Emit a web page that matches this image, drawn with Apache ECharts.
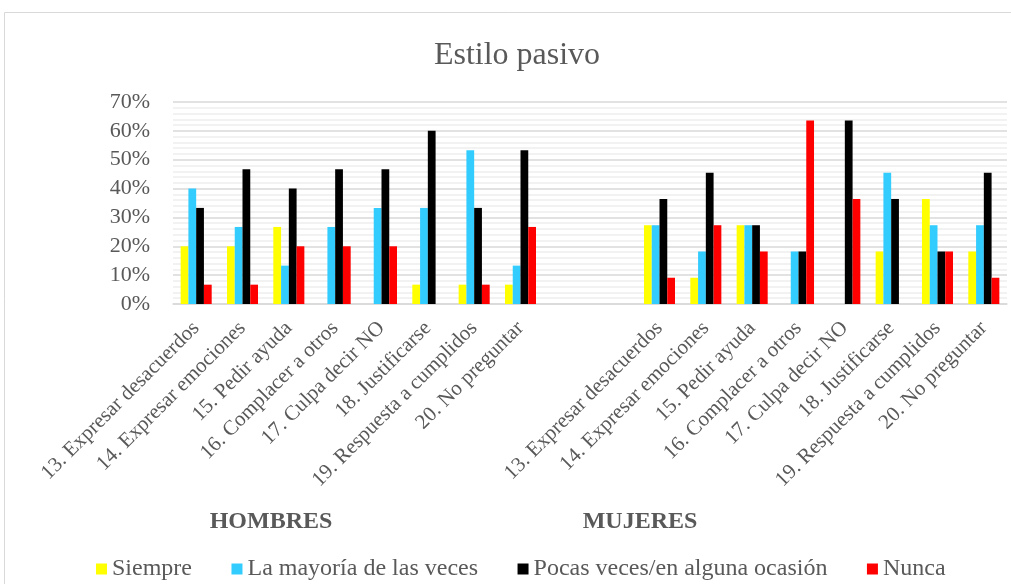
<!DOCTYPE html>
<html>
<head>
<meta charset="utf-8">
<script src="https://cdn.jsdelivr.net/npm/echarts@6/dist/echarts.min.js"></script>
<style>
  html, body { margin: 0; padding: 0; background: #ffffff; }
  #chart { width: 1011px; height: 584px; }
</style>
</head>
<body>
<div id="chart"></div>
<script>
// Item labels (same eight items for each group) and two empty slots between groups
const items = [
  '13. Expresar desacuerdos',
  '14. Expresar emociones',
  '15. Pedir ayuda',
  '16. Complacer a otros',
  '17. Culpa decir NO',
  '18. Justificarse',
  '19. Respuesta a cumplidos',
  '20. No preguntar'
];
const categories = items.concat([' ', '  '], items);

const seriesNames = ['Siempre', 'La mayoría de las veces', 'Pocas veces/en alguna ocasión', 'Nunca'];
const groupTitles = ['HOMBRES', 'MUJERES'];

// Percentages, men (items 13-20)
const hombresSiempre = [20, 20, 26.7, 0, 0, 6.7, 6.7, 6.7];
const hombresMayoria = [40, 26.7, 13.3, 26.7, 33.3, 33.3, 53.3, 13.3];
const hombresPocas   = [33.3, 46.7, 40, 46.7, 46.7, 60, 33.3, 53.3];
const hombresNunca   = [6.7, 6.7, 20, 20, 20, 0, 6.7, 26.7];

// Percentages, women (items 13-20)
const mujeresSiempre = [27.3, 9.1, 27.3, 0, 0, 18.2, 36.4, 18.2];
const mujeresMayoria = [27.3, 18.2, 27.3, 18.2, 0, 45.5, 27.3, 27.3];
const mujeresPocas   = [36.4, 45.5, 27.3, 18.2, 63.6, 36.4, 18.2, 45.5];
const mujeresNunca   = [9.1, 27.3, 18.2, 63.6, 36.4, 0, 18.2, 9.1];

const gap = [null, null];
const colors = ['#FFFF00', '#33CCFF', '#000000', '#FF0000'];
const serif = "'Liberation Serif', 'Times New Roman', serif";
const textGrey = '#595959';

const seriesValues = [
  hombresSiempre.concat(gap, mujeresSiempre),
  hombresMayoria.concat(gap, mujeresMayoria),
  hombresPocas.concat(gap, mujeresPocas),
  hombresNunca.concat(gap, mujeresNunca)
];

const chart = echarts.init(document.getElementById('chart'), null, { renderer: 'canvas' });

chart.setOption({
  animation: false,
  backgroundColor: '#ffffff',
  color: colors,
  title: [
    {
      text: 'Estilo pasivo',
      left: 517, top: 40, textAlign: 'center', padding: 0,
      textStyle: { fontFamily: serif, fontSize: 32, fontWeight: 'normal', color: textGrey }
    },
    {
      text: groupTitles[0],
      left: 271, top: 510, textAlign: 'center', padding: 0,
      textStyle: { fontFamily: serif, fontSize: 24, fontWeight: 'bold', color: textGrey }
    },
    {
      text: groupTitles[1],
      left: 640, top: 510, textAlign: 'center', padding: 0,
      textStyle: { fontFamily: serif, fontSize: 24, fontWeight: 'bold', color: textGrey }
    }
  ],
  graphic: [
    {
      type: 'rect',
      shape: { x: 4.5, y: 12.5, width: 1100, height: 700 },
      style: { fill: 'none', stroke: '#d9d9d9', lineWidth: 1 },
      silent: true
    }
  ],
  legend: {
    data: seriesNames,
    left: 96, top: 557, padding: 0,
    icon: 'rect',
    itemWidth: 11, itemHeight: 11,
    itemGap: 39.5,
    textStyle: { fontFamily: serif, fontSize: 24, color: textGrey }
  },
  grid: { left: 173, right: 4, top: 102, bottom: 280, containLabel: false },
  xAxis: {
    type: 'category',
    data: categories,
    axisLine: { show: true, lineStyle: { color: '#d9d9d9', width: 1.5 } },
    axisTick: { show: false },
    axisLabel: {
      interval: 0, rotate: 45, margin: 21,
      fontFamily: serif, fontSize: 21, color: textGrey
    }
  },
  yAxis: {
    type: 'value',
    min: 0, max: 70, interval: 10,
    axisLine: { show: false },
    axisTick: { show: false },
    axisLabel: {
      formatter: '{value}%', margin: 23,
      fontFamily: serif, fontSize: 22, color: textGrey
    },
    splitLine: { show: true, lineStyle: { color: '#d9d9d9', width: 1.5 } },
    minorTick: { show: false, splitNumber: 5 },
    minorSplitLine: { show: true, lineStyle: { color: '#eeeeee', width: 1.5 } }
  },
  series: seriesNames.map((name, i) => ({
    name: name,
    type: 'bar',
    data: seriesValues[i],
    barGap: '0%',
    barCategoryGap: '33%',
    itemStyle: { color: colors[i] }
  }))
});
</script>
</body>
</html>
